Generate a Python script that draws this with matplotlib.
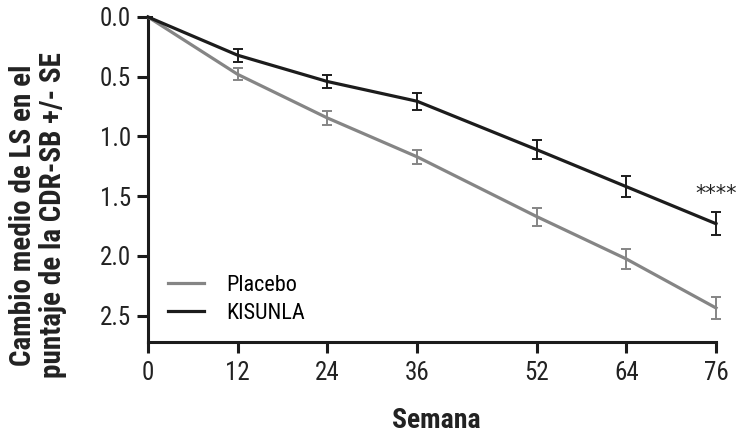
import matplotlib
matplotlib.use("Agg")
import matplotlib.pyplot as plt
from matplotlib import font_manager
from matplotlib.lines import Line2D

# Helvetica-condensed look: first installed face from this list
names = {f.name for f in font_manager.fontManager.ttflist}
wanted = ["Nimbus Sans Narrow", "Liberation Sans Narrow", "Arial Narrow", "Roboto Condensed",
          "Open Sans Condensed", "Asap Condensed", "Barlow Condensed"]
face = [n for n in wanted if n in names][:1]
plt.rcParams["font.family"] = face + ["Liberation Sans", "DejaVu Sans"]

# data
weeks = [0, 12, 24, 36, 52, 64, 76]
placebo = [0.0, 0.48, 0.845, 1.17, 1.67, 2.025, 2.435]
placebo_se = [0.0, 0.05, 0.055, 0.06, 0.075, 0.085, 0.09]
kisunla = [0.0, 0.32, 0.54, 0.705, 1.11, 1.42, 1.73]
kisunla_se = [0.0, 0.055, 0.055, 0.07, 0.078, 0.09, 0.098]
yticks = [0.0, 0.5, 1.0, 1.5, 2.0, 2.5]

gray = "#858585"
dark = "#1c1c1c"

fig = plt.figure(figsize=(7.38, 4.33), dpi=100)
ax = fig.add_axes([148 / 738, 1 - 342 / 433, (716 - 148) / 738, (342 - 17) / 433])

ax.errorbar(weeks, placebo, yerr=placebo_se, color=gray, lw=2.3, elinewidth=1.4,
            capsize=3.5, capthick=1.4, clip_on=False, zorder=3)
ax.errorbar(weeks, kisunla, yerr=kisunla_se, color=dark, lw=2.3, elinewidth=1.4,
            capsize=3.5, capthick=1.4, clip_on=False, zorder=4)

ax.set_xlim(0, 76)
ax.set_ylim(2.72, 0)
ax.set_xticks(weeks)
ax.set_yticks(yticks)
ax.set_yticklabels([f"{v:.1f}" for v in yticks])

for s in ["top", "right"]:
    ax.spines[s].set_visible(False)
for s in ["left", "bottom"]:
    ax.spines[s].set_linewidth(2.2)
    ax.spines[s].set_color(dark)
ax.tick_params(axis="both", length=8, width=2.2, color=dark, labelsize=18, labelcolor="#222222")
ax.tick_params(axis="y", pad=4)
ax.tick_params(axis="x", pad=6)

handles = [Line2D([], [], color=gray, lw=2.3), Line2D([], [], color=dark, lw=2.3)]
ax.legend(handles, ["Placebo", "KISUNLA"], loc="lower left", bbox_to_anchor=(0.0, -0.005),
          frameon=False, fontsize=16, handlelength=1.6, handletextpad=1.0, labelspacing=0.3)

ax.text(76, 1.48, "****", ha="center", va="center", fontsize=15, color="#222222",
        family="DejaVu Sans", clip_on=False)

fig.text(436 / 738, 1 - 420 / 433, "Semana", ha="center", va="center",
         fontsize=20, fontweight="bold", color="#222222")
fig.text(38 / 738, 1 - 215 / 433, "Cambio medio de LS en el\npuntaje de la CDR-SB +/- SE",
         ha="center", va="center", rotation=90, fontsize=21, fontweight="bold",
         color="#222222", linespacing=1.1)

fig.savefig("out.png", dpi=100)
